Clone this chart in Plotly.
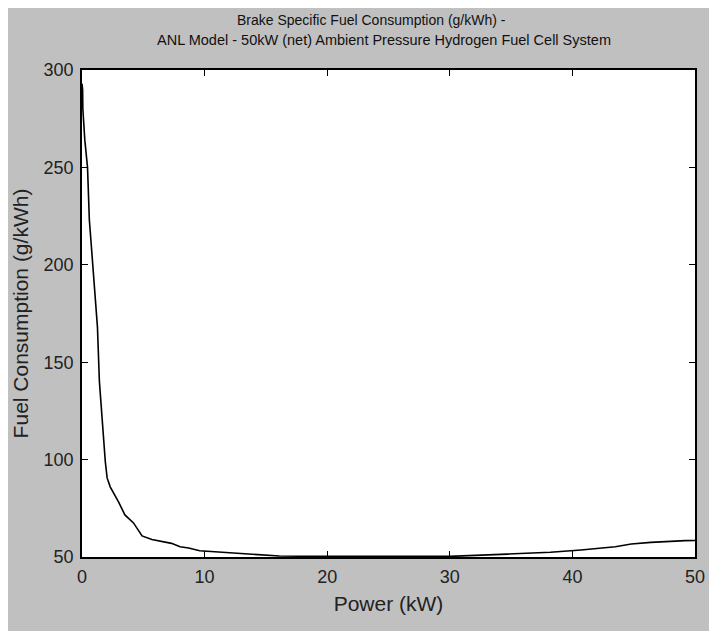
import plotly.graph_objects as go

power_kw = [0.0, 0.05, 0.07, 0.23, 0.45, 0.6, 0.77, 0.93, 1.1, 1.26, 1.42, 1.58, 1.75, 1.9, 2.05,
            2.3, 3.0, 3.5, 4.2, 4.9, 5.7, 7.3, 8.0, 8.7, 9.6, 11.3, 13.7, 16.1, 20.0, 25.0, 30.0,
            34.7, 38.2, 40.7, 42.2, 43.5, 44.8, 46.4, 49.2, 50.0]
fuel_gkwh = [293, 290, 280, 264, 250, 223, 209, 196, 182, 168, 140, 125, 112, 99, 90.6,
             86, 78, 71.6, 67.5, 60.8, 59, 57, 55.3, 54.6, 53.2, 52.4, 51.4, 50.5, 50.3, 50.3, 50.3,
             51.5, 52.4, 53.6, 54.4, 55.3, 56.7, 57.5, 58.4, 58.5]

x_ticks = [0, 10, 20, 30, 40, 50]
y_ticks = [50, 100, 150, 200, 250, 300]

title_lines = ["Brake Specific Fuel Consumption (g/kWh) -",
               "ANL Model - 50kW (net) Ambient Pressure Hydrogen Fuel Cell System"]

# page body has an 8px margin, so the figure is drawn slightly smaller
W, H = 709, 623
L, R, T, B = 74, 20, 62, 74
pw, ph = W - L - R, H - T - B

def px(xp):
    return (xp - L) / pw

def py(yp):
    return (H - B - yp) / ph

fig = go.Figure()
fig.add_trace(go.Scatter(x=power_kw, y=fuel_gkwh, mode="lines",
                         line=dict(color="black", width=1.6), showlegend=False))

font = "Liberation Sans, Arial, sans-serif"

fig.update_layout(
    width=W, height=H,
    margin=dict(l=L, r=R, t=T, b=B),
    paper_bgcolor="#c0c0c0",
    plot_bgcolor="white",
    font=dict(family=font, color="#111111"),
    annotations=[
        dict(text=title_lines[0], xref="paper", yref="paper", x=px(364), y=py(12),
             showarrow=False, font=dict(size=14, family=font, color="#111111"), xanchor="center", yanchor="middle"),
        dict(text=title_lines[1], xref="paper", yref="paper", x=px(377), y=py(32),
             showarrow=False, font=dict(size=14.5, family=font, color="#111111"), xanchor="center", yanchor="middle"),
    ],
    xaxis=dict(range=[0, 50], tickvals=x_ticks, ticktext=[str(v) for v in x_ticks],
               ticks="inside", ticklen=6, tickcolor="black", tickwidth=1,
               showline=True, linecolor="black", linewidth=1.5, mirror="ticks",
               showgrid=False, zeroline=False, ticklabelstandoff=3,
               tickfont=dict(size=18, family=font, color="#222222"),
               title=dict(text="Power (kW)", font=dict(size=21, family=font, color="#222222"), standoff=10)),
    yaxis=dict(range=[50, 300], tickvals=y_ticks, ticktext=[str(v) for v in y_ticks],
               ticks="inside", ticklen=6, tickcolor="black", tickwidth=1,
               showline=True, linecolor="black", linewidth=1.5, mirror="ticks",
               showgrid=False, zeroline=False, ticklabelstandoff=3,
               tickfont=dict(size=18, family=font, color="#222222"),
               title=dict(text="Fuel Consumption (g/kWh)", font=dict(size=21, family=font, color="#222222"), standoff=9)),
)

fig.write_html("out.html")
